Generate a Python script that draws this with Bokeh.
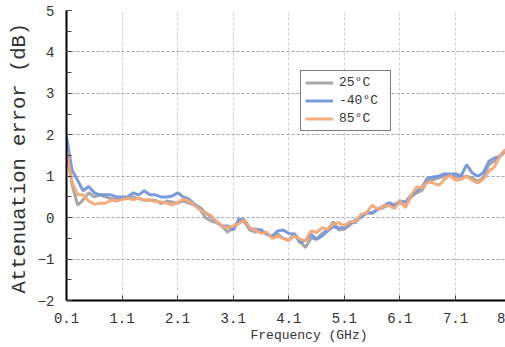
from bokeh.plotting import figure
from bokeh.models import (Range1d, FixedTicker, SingleIntervalTicker, Legend, LegendItem, Title)
from bokeh.embed import file_html
from bokeh.resources import INLINE

freq = [0.1, 0.2, 0.3, 0.4, 0.5, 0.6, 0.7, 0.8, 0.9, 1.0,
        1.1, 1.2, 1.3, 1.4, 1.5, 1.6, 1.7, 1.8, 1.9, 2.0,
        2.1, 2.2, 2.3, 2.4, 2.5, 2.6, 2.7, 2.8, 2.9, 3.0,
        3.1, 3.2, 3.3, 3.4, 3.5, 3.6, 3.7, 3.8, 3.9, 4.0,
        4.1, 4.2, 4.3, 4.4, 4.5, 4.6, 4.7, 4.8, 4.9, 5.0,
        5.1, 5.2, 5.3, 5.4, 5.5, 5.6, 5.7, 5.8, 5.9, 6.0,
        6.1, 6.2, 6.3, 6.4, 6.5, 6.6, 6.7, 6.8, 6.9, 7.0,
        7.1, 7.2, 7.3, 7.4, 7.5, 7.6, 7.7, 7.8, 7.9, 8.0]

err_25 = [1.65, 0.80, 0.30, 0.43, 0.60, 0.50, 0.55, 0.50, 0.46, 0.44,
          0.46, 0.46, 0.50, 0.46, 0.42, 0.42, 0.42, 0.34, 0.40, 0.38,
          0.35, 0.40, 0.35, 0.30, 0.20, 0.00, -0.08, -0.12, -0.20, -0.35,
          -0.25, -0.10, -0.10, -0.30, -0.35, -0.30, -0.40, -0.45, -0.40, -0.50,
          -0.55, -0.38, -0.56, -0.72, -0.50, -0.52, -0.38, -0.30, -0.10, -0.30,
          -0.28, -0.18, -0.05, 0.00, 0.12, 0.10, 0.20, 0.24, 0.30, 0.30,
          0.36, 0.28, 0.50, 0.60, 0.66, 0.90, 0.92, 0.96, 1.00, 1.06,
          0.98, 0.98, 1.00, 0.96, 0.88, 0.96, 1.28, 1.36, 1.48, 1.60]

err_m40 = [1.95, 1.15, 0.90, 0.65, 0.75, 0.60, 0.55, 0.55, 0.55, 0.50,
           0.50, 0.50, 0.60, 0.55, 0.65, 0.55, 0.55, 0.50, 0.50, 0.52,
           0.60, 0.50, 0.45, 0.33, 0.24, 0.12, 0.02, -0.10, -0.20, -0.20,
           -0.30, -0.04, -0.05, -0.27, -0.28, -0.30, -0.40, -0.45, -0.32, -0.30,
           -0.38, -0.40, -0.60, -0.55, -0.40, -0.52, -0.44, -0.32, -0.22, -0.25,
           -0.24, -0.12, -0.12, 0.04, 0.12, 0.12, 0.20, 0.28, 0.36, 0.30,
           0.40, 0.38, 0.54, 0.64, 0.74, 0.96, 0.98, 1.00, 1.06, 1.04,
           1.06, 1.00, 1.28, 1.08, 1.00, 1.08, 1.36, 1.44, 1.48, 1.64]

err_85 = [1.65, 0.85, 0.55, 0.55, 0.40, 0.32, 0.35, 0.35, 0.42, 0.40,
          0.44, 0.47, 0.43, 0.47, 0.42, 0.43, 0.39, 0.38, 0.35, 0.30,
          0.36, 0.45, 0.40, 0.30, 0.20, 0.12, 0.05, -0.10, -0.20, -0.25,
          -0.20, -0.15, -0.05, -0.25, -0.30, -0.38, -0.35, -0.50, -0.45, -0.50,
          -0.55, -0.44, -0.52, -0.56, -0.32, -0.36, -0.24, -0.28, -0.16, -0.12,
          -0.20, -0.10, -0.10, 0.08, 0.12, 0.30, 0.20, 0.28, 0.30, 0.22,
          0.40, 0.24, 0.54, 0.74, 0.72, 0.86, 0.84, 0.78, 0.92, 1.02,
          0.90, 0.92, 1.00, 0.90, 0.84, 0.92, 1.12, 1.22, 1.50, 1.64]

x_ticks = [0.1, 1.1, 2.1, 3.1, 4.1, 5.1, 6.1, 7.1, 8.0]
x_tick_labels = ["0.1", "1.1", "2.1", "3.1", "4.1", "5.1", "6.1", "7.1", "8"]
series_names = ["25°C", "-40°C", "85°C"]
series_colors = ["#a3a3a3", "#7396dc", "#f4a877"]

FONT = "Liberation Mono"

p = figure(width=505, height=347, output_backend="svg", toolbar_location=None,
           x_range=Range1d(0.1, 8.0), y_range=Range1d(-2, 5),
           min_border_left=66, min_border_right=0, min_border_top=10, min_border_bottom=47)
p.outline_line_color = None
p.background_fill_color = "white"
p.border_fill_color = "white"

# axes
for ax in (p.xaxis[0], p.yaxis[0]):
    ax.axis_line_color = "black"
    ax.axis_line_width = 2
    ax.major_tick_in = 5
    ax.major_tick_out = 0
    ax.major_tick_line_color = "#404040"
    ax.minor_tick_in = 5
    ax.minor_tick_out = 0
    ax.minor_tick_line_color = "#404040"
    ax.major_label_text_font = FONT
    ax.major_label_text_font_size = "14px"
    ax.major_label_text_color = "#333333"

p.xaxis.ticker = FixedTicker(ticks=x_ticks)
p.xaxis.major_label_overrides = {t: l for t, l in zip(x_ticks, x_tick_labels)}
p.xaxis.major_label_standoff = 12
p.yaxis.ticker = SingleIntervalTicker(interval=1, num_minor_ticks=2)
p.yaxis.major_label_standoff = 12

# grids
p.ygrid.grid_line_color = "#a6a6a6"
p.ygrid.grid_line_dash = "3 2"
p.ygrid.grid_line_width = 1
p.xgrid.ticker = FixedTicker(ticks=x_ticks[1:-1])
p.xgrid.grid_line_color = "#cfcfcf"
p.xgrid.grid_line_dash = "3 2"
p.xgrid.grid_line_width = 1

# axis titles
p.add_layout(Title(text="Frequency (GHz)", align="left", offset=184,
                   text_font=FONT, text_font_size="13px", text_font_style="normal",
                   text_color="#333333", standoff=1), "below")
p.add_layout(Title(text="Attenuation error (dB)", align="left", offset=7,
                   text_font=FONT, text_font_size="20.5px", text_font_style="normal",
                   text_color="#333333", standoff=8), "left")

renderers = []
for ys, c in zip([err_25, err_m40, err_85], series_colors):
    r = p.line(freq, ys, line_color=c, line_width=3, line_alpha=0.95)
    renderers.append(r)

legend = Legend(items=[LegendItem(label=n, renderers=[r]) for n, r in zip(series_names, renderers)],
                location=(234, 169), border_line_color="black", border_line_width=1,
                background_fill_color="white", background_fill_alpha=1.0,
                label_text_font=FONT, label_text_font_size="13px", label_text_color="#333333",
                glyph_width=28, glyph_height=15, label_height=15, label_width=47, spacing=3,
                padding=4, margin=0, label_standoff=6)
p.add_layout(legend, "center")

open("out.html", "w").write(file_html(p, INLINE))
